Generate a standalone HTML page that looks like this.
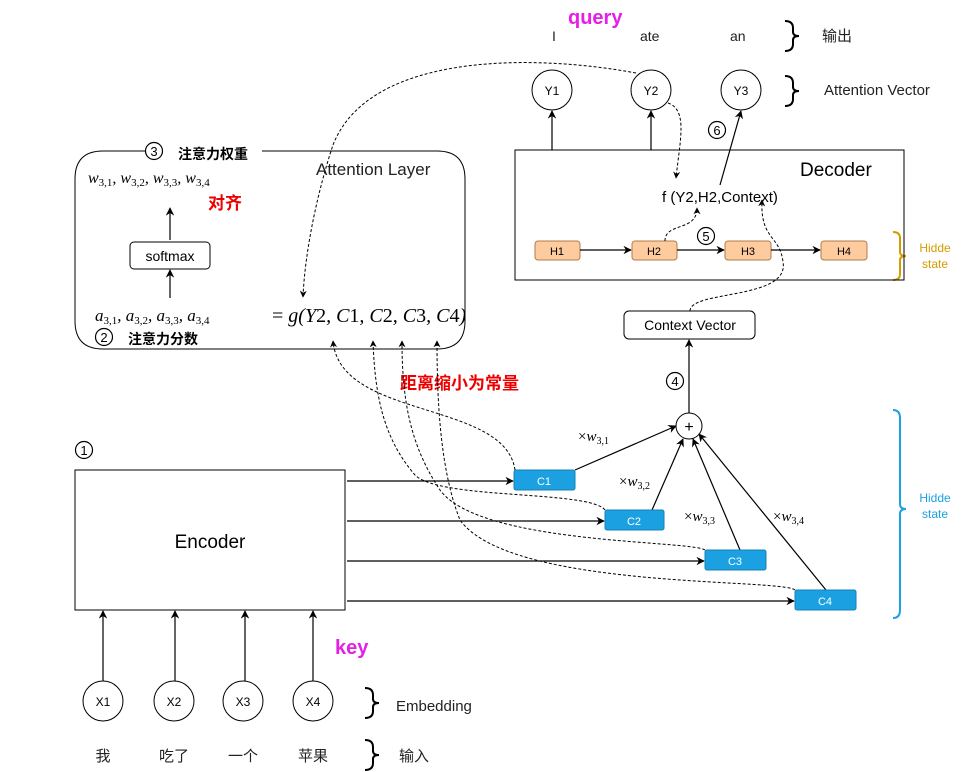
<!DOCTYPE html>
<html><head><meta charset="utf-8"><style>
html,body{margin:0;padding:0;background:#fff;}
svg{display:block;}
.s{font-family:"Liberation Sans","Noto Sans CJK SC",sans-serif;}
.m{font-family:"Liberation Serif","DejaVu Serif",serif;font-style:italic;}
</style></head><body>
<svg width="965" height="772" viewBox="0 0 965 772" xmlns="http://www.w3.org/2000/svg">
<defs>
<marker id="a" viewBox="0 0 10 10" refX="9" refY="5" markerWidth="7" markerHeight="7" orient="auto-start-reverse"><path d="M0,0 L10,5 L0,10 L3,5 z" fill="#000"/></marker>
</defs>
<g class="s" fill="#000">
<text x="568" y="24" font-size="20" font-weight="bold" fill="#e61ee6">query</text>
<text x="552" y="41" font-size="14" fill="#222">I</text>
<text x="640" y="41" font-size="14" fill="#222">ate</text>
<text x="730" y="41" font-size="14" fill="#222">an</text>
<text x="822" y="41" font-size="15" fill="#222">输出</text>
<text x="824" y="95" font-size="15" fill="#222">Attention Vector</text>
</g>
<g fill="none" stroke="#000" stroke-width="2">
<path d="M785,21 q8,0 8,7 v4 q0,4 6,4 q-6,0 -6,4 v4 q0,7 -8,7"/>
<path d="M785,76 q8,0 8,7 v4 q0,4 6,4 q-6,0 -6,4 v4 q0,7 -8,7"/>
<path d="M365,688 q8,0 8,7 v4 q0,4 6,4 q-6,0 -6,4 v4 q0,7 -8,7"/>
<path d="M365,740 q8,0 8,7 v4 q0,4 6,4 q-6,0 -6,4 v4 q0,7 -8,7"/>
</g>
<path d="M893,232 q7,0 7,6 v14 q0,4 6,4 q-6,0 -6,4 v14 q0,6 -7,6" fill="none" stroke="#d79b00" stroke-width="2"/>
<path d="M893,410 q7,0 7,8 v86 q0,5 6,5 q-6,0 -6,5 v96 q0,8 -7,8" fill="none" stroke="#1ba1e2" stroke-width="2"/>
<g class="s" font-size="12" text-anchor="middle">
<text x="935" y="252" fill="#d79b00">Hidde</text><text x="935" y="268" fill="#d79b00">state</text>
<text x="935" y="502" fill="#1ba1e2">Hidde</text><text x="935" y="518" fill="#1ba1e2">state</text>
</g>
<g stroke="#000" fill="#fff" stroke-width="1">
<circle cx="552" cy="90" r="20"/><circle cx="651" cy="90" r="20"/><circle cx="741" cy="90" r="20"/>
<circle cx="103" cy="701" r="20"/><circle cx="174" cy="701" r="20"/><circle cx="243" cy="701" r="20"/><circle cx="313" cy="701" r="20"/>
<circle cx="689" cy="426" r="13"/>
</g>
<g class="s" font-size="12" text-anchor="middle">
<text x="552" y="95">Y1</text><text x="651" y="95">Y2</text><text x="741" y="95">Y3</text>
<text x="103" y="706">X1</text><text x="174" y="706">X2</text><text x="243" y="706">X3</text><text x="313" y="706">X4</text>
<text x="689" y="432" font-size="16">+</text>
</g>
<rect x="515" y="150" width="389" height="130" fill="none" stroke="#000"/>
<text class="s" x="800" y="176" font-size="19">Decoder</text>
<text class="s" x="720" y="202" font-size="15" text-anchor="middle">f (Y2,H2,Context)</text>
<g stroke="#b07c4a" fill="#fdcb9e">
<rect x="535" y="241" width="45" height="19" rx="3"/><rect x="632" y="241" width="45" height="19" rx="3"/>
<rect x="725" y="241" width="46" height="19" rx="3"/><rect x="821" y="241" width="46" height="19" rx="3"/>
</g>
<g class="s" font-size="11" text-anchor="middle">
<text x="557" y="255">H1</text><text x="654" y="255">H2</text><text x="748" y="255">H3</text><text x="844" y="255">H4</text>
</g>
<!-- circled numbers -->
<g fill="none" stroke="#000" stroke-width="1.2">
<circle cx="706" cy="236" r="8.5"/><circle cx="717" cy="130" r="8.5"/><circle cx="675" cy="381" r="8.5"/>
<circle cx="84" cy="450" r="8.5"/><circle cx="154" cy="151" r="8.5"/><circle cx="104" cy="337" r="8.5"/>
</g>
<g class="s" font-size="13" text-anchor="middle">
<text x="706" y="241">5</text><text x="717" y="135">6</text><text x="675" y="386">4</text>
<text x="84" y="455">1</text><text x="154" y="156">3</text><text x="104" y="342">2</text>
</g>
<rect x="624" y="311" width="131" height="28" rx="5" fill="#fff" stroke="#000"/>
<text class="s" x="690" y="330" font-size="14" text-anchor="middle">Context Vector</text>
<g stroke="#000" stroke-width="1.2" fill="none" marker-end="url(#a)">
<line x1="552" y1="150" x2="552" y2="111"/>
<line x1="651" y1="150" x2="651" y2="111"/>
<line x1="720" y1="185" x2="741" y2="111"/>
<line x1="580" y1="250" x2="631" y2="250"/>
<line x1="677" y1="250" x2="724" y2="250"/>
<line x1="771" y1="250" x2="820" y2="250"/>
<line x1="689" y1="413" x2="689" y2="340"/>
<line x1="575" y1="470" x2="676" y2="426"/>
<line x1="652" y1="510" x2="683" y2="439"/>
<line x1="740" y1="550" x2="693" y2="439"/>
<line x1="826" y1="590" x2="699" y2="434"/>
<line x1="347" y1="481" x2="513" y2="481"/>
<line x1="347" y1="521" x2="604" y2="521"/>
<line x1="347" y1="561" x2="704" y2="561"/>
<line x1="347" y1="601" x2="794" y2="601"/>
<line x1="103" y1="681" x2="103" y2="611"/>
<line x1="175" y1="681" x2="175" y2="611"/>
<line x1="245" y1="681" x2="245" y2="611"/>
<line x1="313" y1="681" x2="313" y2="611"/>
<line x1="170" y1="298" x2="170" y2="270"/>
<line x1="170" y1="240" x2="170" y2="208"/>
</g>
<g fill="#1ba1e2" stroke="#1a7fb5">
<rect x="514" y="470" width="61" height="20" rx="2"/><rect x="605" y="510" width="59" height="20" rx="2"/>
<rect x="705" y="550" width="61" height="20" rx="2"/><rect x="795" y="590" width="61" height="20" rx="2"/>
</g>
<g class="s" font-size="11" fill="#fff" text-anchor="middle">
<text x="544" y="485">C1</text><text x="634" y="525">C2</text><text x="735" y="565">C3</text><text x="825" y="605">C4</text>
</g>
<rect x="75" y="470" width="270" height="140" fill="#fff" stroke="#000"/>
<text class="s" x="210" y="548" font-size="19" text-anchor="middle">Encoder</text>
<text class="s" x="335" y="654" font-size="20" font-weight="bold" fill="#e61ee6">key</text>
<text class="s" x="396" y="711" font-size="15" fill="#222">Embedding</text>
<g class="s" font-size="15" text-anchor="middle" fill="#222">
<text x="103" y="761">我</text><text x="174" y="761">吃了</text><text x="243" y="761">一个</text><text x="313" y="761">苹果</text>
<text x="414" y="761">输入</text>
</g>
<path d="M140,151 H103 Q75,151 75,179 V321 Q75,349 103,349 H437 Q465,349 465,321 V179 Q465,151 437,151 H262" fill="none" stroke="#000"/>
<line x1="140" y1="151" x2="145" y2="151" stroke="#000"/>
<text class="s" x="178" y="159" font-size="14" font-weight="bold">注意力权重</text>
<text class="s" x="316" y="175" font-size="17" fill="#222">Attention Layer</text>
<text class="m" x="88" y="183" font-size="16">w<tspan font-size="11" dy="3" font-style="normal">3,1</tspan><tspan dy="-3">, w</tspan><tspan font-size="11" dy="3" font-style="normal">3,2</tspan><tspan dy="-3">, w</tspan><tspan font-size="11" dy="3" font-style="normal">3,3</tspan><tspan dy="-3">, w</tspan><tspan font-size="11" dy="3" font-style="normal">3,4</tspan></text>
<text class="s" x="208" y="209" font-size="17" font-weight="bold" fill="#e00">对齐</text>
<rect x="130" y="242" width="80" height="27" rx="4" fill="#fff" stroke="#000"/>
<text class="s" x="170" y="261" font-size="14" text-anchor="middle">softmax</text>
<text class="m" x="95" y="321" font-size="17">a<tspan font-size="11" dy="3" font-style="normal">3,1</tspan><tspan dy="-3">, a</tspan><tspan font-size="11" dy="3" font-style="normal">3,2</tspan><tspan dy="-3">, a</tspan><tspan font-size="11" dy="3" font-style="normal">3,3</tspan><tspan dy="-3">, a</tspan><tspan font-size="11" dy="3" font-style="normal">3,4</tspan></text>
<text class="m" x="272" y="322" font-size="20"><tspan font-style="normal">= </tspan>g(Y<tspan font-style="normal">2</tspan>, C<tspan font-style="normal">1</tspan>, C<tspan font-style="normal">2</tspan>, C<tspan font-style="normal">3</tspan>, C<tspan font-style="normal">4</tspan>)</text>
<text class="s" x="128" y="344" font-size="14" font-weight="bold">注意力分数</text>
<text class="s" x="400" y="389" font-size="17" font-weight="bold" fill="#e00">距离缩小为常量</text>
<g class="m" font-size="15">
<text x="578" y="441"><tspan font-style="normal">×</tspan>w<tspan font-size="10" dy="3" font-style="normal">3,1</tspan></text>
<text x="619" y="486"><tspan font-style="normal">×</tspan>w<tspan font-size="10" dy="3" font-style="normal">3,2</tspan></text>
<text x="684" y="521"><tspan font-style="normal">×</tspan>w<tspan font-size="10" dy="3" font-style="normal">3,3</tspan></text>
<text x="773" y="521"><tspan font-style="normal">×</tspan>w<tspan font-size="10" dy="3" font-style="normal">3,4</tspan></text>
</g>
<g stroke="#000" stroke-width="1" fill="none" stroke-dasharray="3,2" marker-end="url(#a)">
<path d="M636,73 C540,55 370,50 333,145 C318,190 305,250 303,297"/>
<path d="M668,103 C688,110 680,140 676,178"/>
<path d="M665,241 C665,222 697,232 697,208"/>
<path d="M690,311 C690,290 790,300 783,262 C780,235 760,240 762,200"/>
<path d="M515,470 C505,400 340,420 333,341"/>
<path d="M605,510 C590,490 440,500 415,475 C385,440 375,400 373,341"/>
<path d="M705,550 C690,540 480,545 440,490 C410,445 402,400 402,341"/>
<path d="M795,590 C780,578 510,590 460,520 C440,470 437,400 437,341"/>
</g>
</svg>
</body></html>
